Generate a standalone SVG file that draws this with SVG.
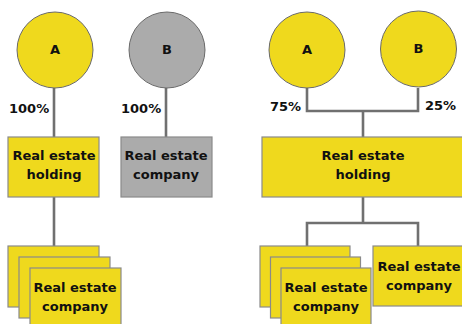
<svg xmlns="http://www.w3.org/2000/svg" width="462" height="324" viewBox="0 0 462 324">
<style>
.y{fill:#efd91d;stroke:#8a8a8a;stroke-width:1.2}
.g{fill:#ababab;stroke:#8a8a8a;stroke-width:1.2}
.c{stroke:#6a6a6a;stroke-width:1}
.ln{fill:none;stroke:#707070;stroke-width:2.6}
text{font-family:"DejaVu Sans","Liberation Sans",sans-serif;font-weight:bold;font-size:13px;fill:#111}
.m{text-anchor:middle}
</style>
<rect width="462" height="324" fill="#fff"/>
<g id="connectors">
<path class="ln" d="M54,88V137M54,197V246M166,88V137"/>
<path class="ln" d="M307,88V111H418V88M363,111V137"/>
<path class="ln" d="M363,197V223M307,246V223H418V246"/>
</g>
<g id="labels">
<text x="9" y="113">100%</text>
<text x="121" y="113">100%</text>
<text x="270" y="111">75%</text>
<text x="425" y="110">25%</text>
</g>
<g id="L_A"><circle class="y c" cx="55" cy="50" r="38"/><text class="m" x="55" y="54">A</text></g>
<g id="L_B"><circle class="g c" cx="167" cy="50" r="38"/><text class="m" x="167" y="54">B</text></g>
<g id="L_holding"><rect class="y" x="8" y="137" width="91" height="60"/><text class="m" x="54" y="160">Real estate</text><text class="m" x="54" y="179">holding</text></g>
<g id="L_companyB"><rect class="g" x="121" y="137" width="91" height="60"/><text class="m" x="166" y="160">Real estate</text><text class="m" x="166" y="179">company</text></g>
<g id="L_stack">
<rect class="y" x="8" y="246" width="91" height="61"/>
<rect class="y" x="19" y="257" width="91" height="61"/>
<rect class="y" x="30" y="268" width="91" height="61"/>
<text class="m" x="75" y="292">Real estate</text><text class="m" x="75" y="311">company</text>
</g>
<g id="R_A"><circle class="y c" cx="307" cy="50" r="38"/><text class="m" x="307" y="54">A</text></g>
<g id="R_B"><circle class="y c" cx="418.5" cy="49" r="38"/><text class="m" x="418.5" y="53">B</text></g>
<g id="R_holding"><rect class="y" x="262" y="137" width="210" height="60"/><text class="m" x="363" y="160">Real estate</text><text class="m" x="363" y="179">holding</text></g>
<g id="R_stack">
<rect class="y" x="260" y="246" width="90" height="61"/>
<rect class="y" x="270.5" y="257" width="90" height="61"/>
<rect class="y" x="281" y="268" width="90" height="61"/>
<text class="m" x="326" y="292">Real estate</text><text class="m" x="326" y="311">company</text>
</g>
<g id="R_company"><rect class="y" x="373" y="246" width="100" height="60"/><text class="m" x="419" y="271">Real estate</text><text class="m" x="419" y="290">company</text></g>
</svg>
